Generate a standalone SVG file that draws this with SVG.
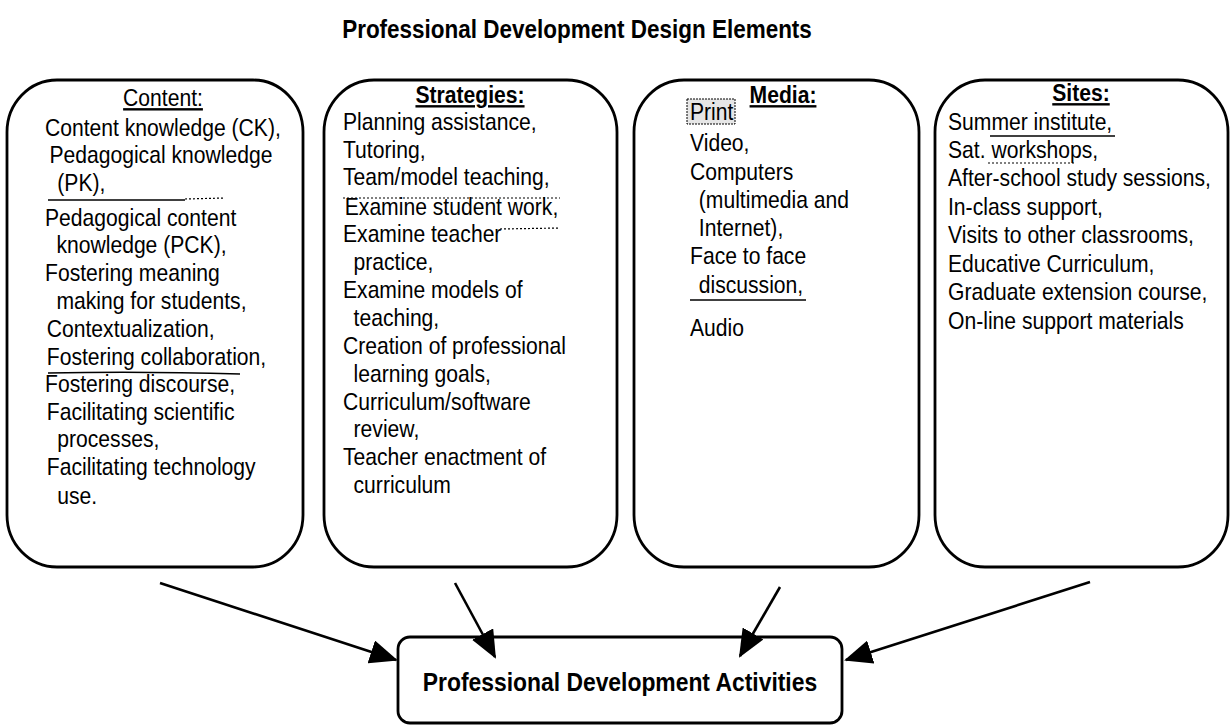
<svg xmlns="http://www.w3.org/2000/svg" width="1230" height="726" viewBox="0 0 1230 726">
<defs>
<style>
.t{font-family:"Liberation Sans",Arial,sans-serif;font-size:24px;fill:#000}
.h{font-family:"Liberation Sans",Arial,sans-serif;font-size:24px;font-weight:bold;fill:#000;text-decoration:underline}
.b{font-family:"Liberation Sans",Arial,sans-serif;font-size:26px;font-weight:bold;fill:#000}
.box{fill:#fff;stroke:#000;stroke-width:2.8}
.con{stroke:#000;stroke-width:2.6;fill:none}
.art{stroke:#000;stroke-width:1.5;fill:none}
.dot{stroke:#000;stroke-width:1.2;fill:none;stroke-dasharray:2 2}
</style>
<marker id="ah" markerWidth="28" markerHeight="24" refX="26" refY="12" orient="auto" markerUnits="userSpaceOnUse">
<path d="M0,0 L28,12 L0,24 z" fill="#000"/>
</marker>
</defs>
<rect width="1230" height="726" fill="#fff"/>

<text class="b" transform="translate(577 38) scale(0.865 1)" text-anchor="middle">Professional Development Design Elements</text>

<g id="content">
<rect class="box" x="7" y="80" width="296" height="487" rx="50" ry="52"/>
<text class="h" transform="translate(163 106) scale(0.88 1)" text-anchor="middle" style="font-weight:normal">Content:</text>
<text class="t" transform="translate(45 0) scale(0.88 1)">
<tspan x="0" y="136">Content knowledge (CK),</tspan>
<tspan x="5" y="163">Pedagogical knowledge</tspan>
<tspan x="14" y="191">(PK),</tspan>
<tspan x="0" y="226">Pedagogical content</tspan>
<tspan x="13" y="253">knowledge (PCK),</tspan>
<tspan x="0" y="281">Fostering meaning</tspan>
<tspan x="13" y="309">making for students,</tspan>
<tspan x="2" y="337">Contextualization,</tspan>
<tspan x="2" y="365">Fostering collaboration,</tspan>
<tspan x="0" y="392">Fostering discourse,</tspan>
<tspan x="2" y="420">Facilitating scientific</tspan>
<tspan x="14" y="447">processes,</tspan>
<tspan x="2" y="475">Facilitating technology</tspan>
<tspan x="14" y="504">use.</tspan>
</text>
<path class="art" d="M48 200 L185 200"/>
<path class="dot" d="M185 199 L225 198"/>
<path class="art" d="M48 373 Q140 371 240 374"/>
</g>

<g id="strategies">
<rect class="box" x="324" y="80" width="293" height="487" rx="50" ry="52"/>
<text class="h" transform="translate(470 103) scale(0.88 1)" text-anchor="middle">Strategies:</text>
<text class="t" transform="translate(343 0) scale(0.88 1)">
<tspan x="0" y="130">Planning assistance,</tspan>
<tspan x="0" y="158">Tutoring,</tspan>
<tspan x="0" y="185">Team/model teaching,</tspan>
<tspan x="2" y="215">Examine student work,</tspan>
<tspan x="0" y="242">Examine teacher</tspan>
<tspan x="12" y="270">practice,</tspan>
<tspan x="0" y="298">Examine models of</tspan>
<tspan x="12" y="326">teaching,</tspan>
<tspan x="0" y="354">Creation of professional</tspan>
<tspan x="12" y="382">learning goals,</tspan>
<tspan x="0" y="410">Curriculum/software</tspan>
<tspan x="12" y="437">review,</tspan>
<tspan x="0" y="465">Teacher enactment of</tspan>
<tspan x="12" y="493">curriculum</tspan>
</text>
<path class="dot" d="M343 198 L560 198"/>
<path class="dot" d="M500 229 L560 228"/>
</g>

<g id="media">
<rect class="box" x="634" y="80" width="285" height="487" rx="50" ry="52"/>
<text class="h" transform="translate(783 103) scale(0.88 1)" text-anchor="middle">Media:</text>
<rect x="687" y="99" width="48" height="25" fill="#e6e6e6" stroke="#000" stroke-width="1" stroke-dasharray="2 1"/>
<text class="t" transform="translate(690 0) scale(0.88 1)">
<tspan x="0" y="120">Print</tspan>
<tspan x="0" y="151">Video,</tspan>
<tspan x="0" y="180">Computers</tspan>
<tspan x="10" y="208">(multimedia and</tspan>
<tspan x="10" y="236">Internet),</tspan>
<tspan x="0" y="264">Face to face</tspan>
<tspan x="10" y="293">discussion,</tspan>
<tspan x="0" y="336">Audio</tspan>
</text>
<path class="art" d="M690 300 L806 300"/>
</g>

<g id="sites">
<rect class="box" x="935" y="80" width="293" height="487" rx="50" ry="52"/>
<text class="h" transform="translate(1081 101) scale(0.88 1)" text-anchor="middle">Sites:</text>
<text class="t" transform="translate(948 0) scale(0.88 1)">
<tspan x="0" y="130">Summer institute,</tspan>
<tspan x="0" y="158">Sat. workshops,</tspan>
<tspan x="0" y="186">After-school study sessions,</tspan>
<tspan x="0" y="215">In-class support,</tspan>
<tspan x="0" y="243">Visits to other classrooms,</tspan>
<tspan x="0" y="272">Educative Curriculum,</tspan>
<tspan x="0" y="300">Graduate extension course,</tspan>
<tspan x="0" y="329">On-line support materials</tspan>
</text>
<path class="art" d="M990 136 L1115 136"/>
<path class="dot" d="M988 163 L1075 163"/>
</g>

<g id="activities">
<rect class="box" x="398" y="637" width="444" height="86" rx="12" ry="12"/>
<text class="b" transform="translate(620 691) scale(0.88 1)" text-anchor="middle">Professional Development Activities</text>
</g>

<g id="connectors">
<line class="con" x1="160" y1="583" x2="396" y2="660" marker-end="url(#ah)"/>
<line class="con" x1="455" y1="583" x2="495" y2="657" marker-end="url(#ah)"/>
<line class="con" x1="780" y1="587" x2="740" y2="656" marker-end="url(#ah)"/>
<line class="con" x1="1090" y1="582" x2="846" y2="660" marker-end="url(#ah)"/>
</g>
</svg>
